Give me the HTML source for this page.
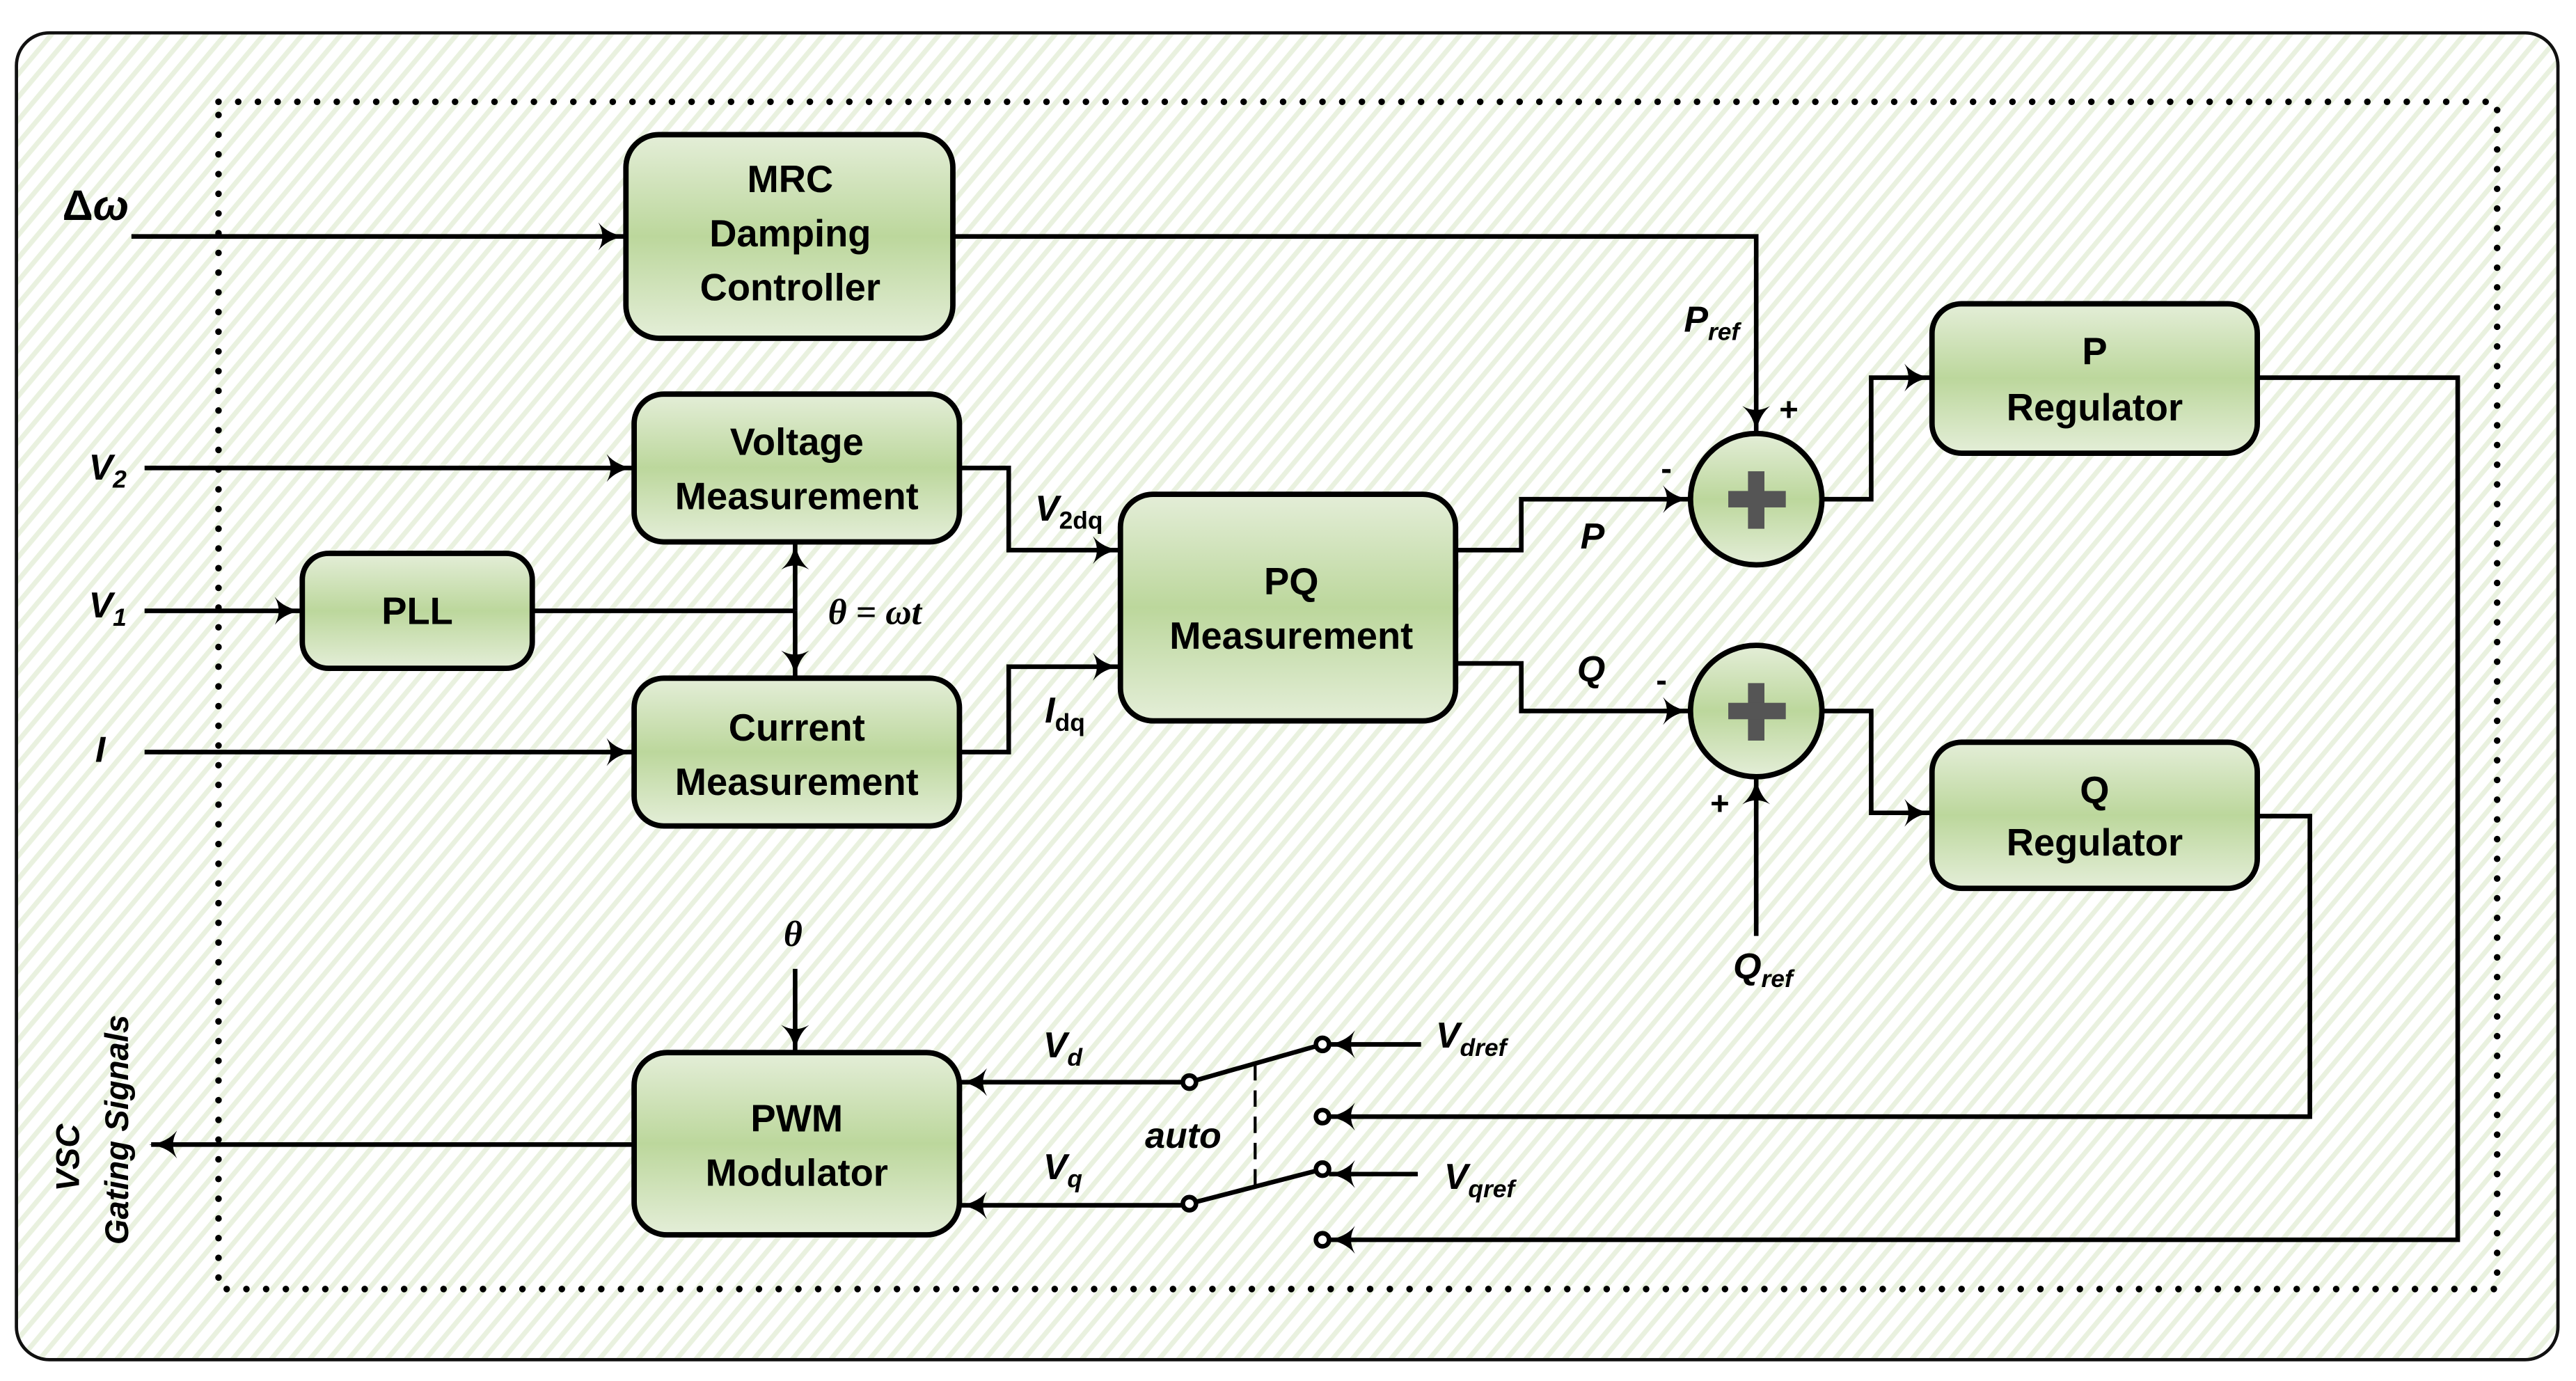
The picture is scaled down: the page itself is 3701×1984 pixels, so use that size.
<!DOCTYPE html>
<html><head><meta charset="utf-8"><style>
html,body{margin:0;padding:0;background:#fff}
svg{display:block}
.b{font-family:"Liberation Sans",sans-serif;font-weight:bold;font-size:23px;text-anchor:middle;fill:#000}
.m{font-family:"Liberation Sans",sans-serif;font-weight:bold;font-style:italic;font-size:22px;fill:#000}
.s{font-size:15px}
</style></head><body>
<svg width="3701" height="1984" viewBox="0 0 1568 841" preserveAspectRatio="none" xmlns="http://www.w3.org/2000/svg">
<defs>
<pattern id="h" width="9" height="9" patternUnits="userSpaceOnUse" patternTransform="rotate(40)">
<rect width="9" height="9" fill="#fff"/><rect width="3" height="9" fill="#e9f1df"/>
</pattern>
<linearGradient id="g" x1="0" y1="0" x2="0" y2="1">
<stop offset="0" stop-color="#e4eed8"/><stop offset="0.5" stop-color="#bcd79c"/><stop offset="1" stop-color="#e4eed8"/>
</linearGradient>
<marker id="a" viewBox="0 0 14 14" refX="13" refY="7" markerWidth="17" markerHeight="17" markerUnits="userSpaceOnUse" orient="auto">
<path d="M0,0 Q5,6 14,7 Q5,8 0,14 Q4,7 0,0z" fill="#000"/>
</marker>
</defs>
<rect x="10" y="20" width="1547" height="808" rx="20" fill="url(#h)" stroke="#111" stroke-width="2"/>
<rect x="133" y="62" width="1387" height="723" fill="none" stroke="#000" stroke-width="4" stroke-dasharray="0 12" stroke-linecap="round"/>

<g fill="none" stroke="#000" stroke-width="2.8">
<line x1="80" y1="144" x2="380" y2="144" marker-end="url(#a)"/>
<polyline points="580,144 1069,144 1069,263" marker-end="url(#a)"/>
<line x1="88" y1="285" x2="385" y2="285" marker-end="url(#a)"/>
<line x1="88" y1="372" x2="183" y2="372" marker-end="url(#a)"/>
<line x1="88" y1="458" x2="385" y2="458" marker-end="url(#a)"/>
<line x1="324" y1="372" x2="484" y2="372"/>
<line x1="484" y1="372" x2="484" y2="331" marker-end="url(#a)"/>
<line x1="484" y1="372" x2="484" y2="412" marker-end="url(#a)"/>
<polyline points="584,285 614,285 614,335 681,335" marker-end="url(#a)"/>
<polyline points="584,458 614,458 614,406 681,406" marker-end="url(#a)"/>
<polyline points="886,335 926,335 926,304 1028,304" marker-end="url(#a)"/>
<polyline points="886,404 926,404 926,433 1028,433" marker-end="url(#a)"/>
<polyline points="1109,304 1139,304 1139,230 1175,230" marker-end="url(#a)"/>
<polyline points="1109,433 1139,433 1139,495 1175,495" marker-end="url(#a)"/>
<line x1="1069" y1="570" x2="1069" y2="474" marker-end="url(#a)"/>
<polyline points="1374,230 1496,230 1496,755 809,755" marker-end="url(#a)"/>
<polyline points="1374,497 1406,497 1406,680 809,680" marker-end="url(#a)"/>
<line x1="865" y1="636" x2="809" y2="636" marker-end="url(#a)"/>
<line x1="863" y1="715" x2="809" y2="715" marker-end="url(#a)"/>
<line x1="720" y1="659" x2="585" y2="659" marker-end="url(#a)"/>
<line x1="720" y1="734" x2="585" y2="734" marker-end="url(#a)"/>
<line x1="724" y1="659" x2="805" y2="636"/>
<line x1="724" y1="733" x2="805" y2="712"/>
<line x1="764" y1="648" x2="764" y2="722" stroke-dasharray="10 6" stroke-width="1.8"/>
<line x1="484" y1="590" x2="484" y2="640" marker-end="url(#a)"/>
<line x1="386" y1="697" x2="92" y2="697" marker-end="url(#a)"/>
</g>
<g fill="#fff" stroke="#000" stroke-width="2.8">
<circle cx="724" cy="659" r="4"/><circle cx="805" cy="636" r="4"/>
<circle cx="805" cy="680" r="4"/><circle cx="724" cy="733" r="4"/>
<circle cx="805" cy="712" r="4"/><circle cx="805" cy="755" r="4"/>
</g>

<g fill="url(#g)" stroke="#000" stroke-width="3.3">
<rect x="381" y="82" width="199" height="124" rx="20"/>
<rect x="386" y="240" width="198" height="90" rx="18"/>
<rect x="184" y="337" width="140" height="70" rx="16"/>
<rect x="386" y="413" width="198" height="90" rx="18"/>
<rect x="682" y="301" width="204" height="138" rx="20"/>
<rect x="1176" y="185" width="198" height="91" rx="18"/>
<rect x="1176" y="452" width="198" height="89" rx="18"/>
<rect x="386" y="641" width="198" height="111" rx="20"/>
<circle cx="1069" cy="304" r="40"/>
<circle cx="1069" cy="433" r="40"/>
</g>
<g fill="#555">
<rect x="1064" y="287" width="10" height="35"/><rect x="1052" y="299" width="35" height="10"/>
<rect x="1064" y="416" width="10" height="35"/><rect x="1052" y="428" width="35" height="10"/>
</g>

<g class="b">
<text x="481" y="117">MRC</text><text x="481" y="150">Damping</text><text x="481" y="183">Controller</text>
<text x="485" y="277">Voltage</text><text x="485" y="310">Measurement</text>
<text x="254" y="380">PLL</text>
<text x="485" y="451">Current</text><text x="485" y="484">Measurement</text>
<text x="786" y="362">PQ</text><text x="786" y="395">Measurement</text>
<text x="1275" y="222">P</text><text x="1275" y="256">Regulator</text>
<text x="1275" y="489">Q</text><text x="1275" y="521">Regulator</text>
<text x="485" y="689">PWM</text><text x="485" y="722">Modulator</text>
</g>

<g class="m">
<text x="38" y="134" style="font-size:26px;font-style:normal">Δ<tspan style="font-style:italic">ω</tspan></text>
<text x="54" y="292">V<tspan class="s" dy="5">2</tspan></text>
<text x="54" y="376">V<tspan class="s" dy="5">1</tspan></text>
<text x="58" y="464">I</text>
<text x="504" y="380" style="font-family:'Liberation Serif',serif">θ = ωt</text>
<text x="630" y="317">V<tspan class="s" dy="5" style="font-style:normal">2dq</tspan></text>
<text x="636" y="440">I<tspan class="s" dy="5" style="font-style:normal">dq</tspan></text>
<text x="962" y="334">P</text>
<text x="960" y="415">Q</text>
<text x="1025" y="202">P<tspan class="s" dy="5">ref</tspan></text>
<text x="1055" y="596">Q<tspan class="s" dy="5">ref</tspan></text>
<text x="1083" y="256" style="font-style:normal;font-size:20px">+</text>
<text x="1041" y="496" style="font-style:normal;font-size:20px">+</text>
<text x="1011" y="292" style="font-style:normal;font-size:20px">-</text>
<text x="1008" y="421" style="font-style:normal;font-size:20px">-</text>
<text x="635" y="644">V<tspan class="s" dy="5">d</tspan></text>
<text x="635" y="718">V<tspan class="s" dy="5">q</tspan></text>
<text x="697" y="699">auto</text>
<text x="874" y="638">V<tspan class="s" dy="5">dref</tspan></text>
<text x="879" y="724">V<tspan class="s" dy="5">qref</tspan></text>
<text x="477" y="576" style="font-family:'Liberation Serif',serif">θ</text>
<text transform="translate(48,705) rotate(-90)" text-anchor="middle" style="font-size:20px">VSC</text>
<text transform="translate(78,688) rotate(-90)" text-anchor="middle" style="font-size:20px">Gating Signals</text>
</g>
</svg>
</body></html>
